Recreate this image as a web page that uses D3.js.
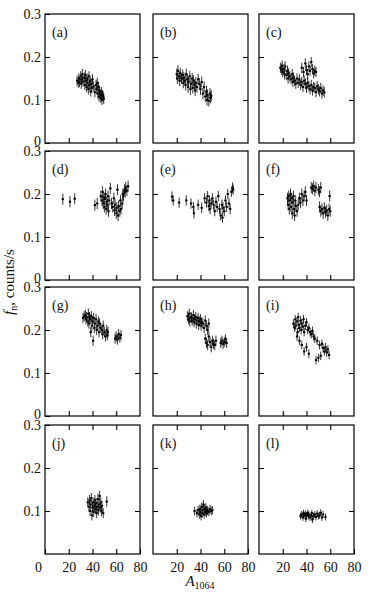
<!DOCTYPE html>
<html>
<head>
<meta charset="utf-8">
<script src="https://cdn.jsdelivr.net/npm/d3@7"></script>
<style>
  body { margin: 0; background: #fff; }
  svg text { font-family: "Times New Roman", "Liberation Serif", Tinos, "DejaVu Serif", serif; fill: #111; }
</style>
</head>
<body>
<div id="chart"></div>
<script>
// panel labels and per-panel typical error (half length of the bars)
var panelLabels = ["(a)", "(b)", "(c)", "(d)", "(e)", "(f)", "(g)", "(h)", "(i)", "(j)", "(k)", "(l)"];
var panelErr = [0.012, 0.013, 0.012, 0.013, 0.012, 0.013, 0.012, 0.012, 0.010, 0.012, 0.010, 0.008];

var xTicks = [0, 20, 40, 60, 80];
var yTicks = [0, 0.1, 0.2, 0.3];

// [A1064, fn]
var ptsA = [[27,0.145],[28,0.140],[28.5,0.150],[29,0.142],[30,0.155],[30.5,0.138],[31,0.148],[31.5,0.160],[32,0.143],[33,0.152],
  [33.5,0.135],[34,0.158],[34.5,0.145],[35,0.130],[35.5,0.150],[36,0.140],[36.5,0.125],[37,0.155],[37.5,0.135],[38,0.145],
  [38.5,0.120],[39,0.138],[39.5,0.128],[40,0.148],[41,0.132],[42,0.118],[43,0.135],[43.5,0.125],[44,0.140],[44.5,0.115],
  [45,0.130],[45.5,0.108],[46,0.122],[46.5,0.112],[47,0.105],[47.5,0.118],[48,0.100],[48.5,0.112],[49,0.108],[49.5,0.103]];
var ptsB = [[20,0.160],[20.5,0.150],[21,0.168],[22,0.155],[22.5,0.145],[23,0.162],[24,0.150],[25,0.158],[25.5,0.140],[26,0.152],
  [27,0.145],[27.5,0.135],[28,0.160],[29,0.148],[29.5,0.130],[30,0.142],[31,0.155],[31.5,0.125],[32,0.138],[33,0.150],
  [33.5,0.128],[34,0.145],[35,0.135],[35.5,0.122],[36,0.140],[37,0.130],[38,0.148],[39,0.138],[40,0.125],[41,0.142],
  [42,0.115],[43,0.130],[44,0.108],[45,0.120],[45.5,0.100],[46,0.112],[47,0.098],[48,0.115],[48.5,0.105],[49,0.110]];
var ptsC = [[18,0.175],[19,0.170],[19.5,0.180],[20,0.165],[21,0.172],[21.5,0.160],[22,0.178],[23,0.158],[24,0.168],[24.5,0.150],
  [25,0.162],[26,0.155],[27,0.148],[28,0.160],[28.5,0.142],[29,0.152],[30,0.145],[31,0.138],[32,0.150],[33,0.140],
  [34,0.148],[35,0.135],[36,0.142],[37,0.130],[38,0.145],[39,0.138],[40,0.128],[41,0.140],[42,0.132],[43,0.125],
  [44,0.135],[45,0.122],[46,0.130],[47,0.128],[48,0.118],[49,0.132],[50,0.125],[51,0.120],[52,0.128],[53,0.115],
  [54,0.122],[55,0.118],[36,0.175],[37.5,0.165],[39,0.185],[40,0.170],[41,0.160],[42,0.178],[43,0.168],[44,0.188],
  [45,0.172],[46,0.162],[47,0.168],[48,0.165]];
var ptsD = [[15,0.188],[21,0.182],[25,0.189],[42,0.174],[44,0.178],[47,0.195],[48,0.185],[48.5,0.205],[49,0.178],[49.5,0.192],
  [50,0.170],[50.5,0.188],[51,0.200],[51.5,0.165],[52,0.182],[52.5,0.175],[53,0.195],[53.5,0.160],[54,0.185],[55,0.213],
  [56,0.178],[57,0.170],[58,0.190],[58.5,0.162],[59,0.175],[60,0.155],[60.5,0.168],[61,0.210],[61.5,0.150],[62,0.172],
  [63,0.160],[63.5,0.185],[64,0.165],[65,0.178],[65.5,0.200],[66,0.195],[67,0.210],[67.5,0.205],[68,0.215],[69,0.208],[70,0.218]];
var ptsE = [[16,0.194],[17,0.185],[22,0.180],[28,0.185],[32,0.178],[34,0.170],[34.5,0.155],[38,0.175],[41,0.168],[43.5,0.190],
  [45,0.180],[46,0.195],[47,0.172],[47.5,0.185],[48,0.165],[49,0.178],[50,0.190],[51,0.175],[52,0.160],[53,0.182],
  [54,0.170],[55,0.195],[56,0.165],[57,0.150],[58,0.175],[58.5,0.145],[59,0.168],[60,0.160],[61,0.185],[62,0.170],
  [63,0.200],[64,0.178],[65,0.165],[66,0.205],[67,0.215],[67.5,0.210]];
var ptsF = [[24,0.190],[24.5,0.175],[25,0.195],[25.5,0.165],[26,0.185],[26.5,0.200],[27,0.170],[27.5,0.190],[28,0.155],[28.5,0.180],
  [29,0.195],[29.5,0.165],[30,0.150],[30.5,0.185],[31,0.172],[32,0.160],[33,0.175],[34,0.190],[35,0.180],[36,0.200],
  [37,0.185],[38,0.195],[39,0.205],[40,0.185],[44,0.215],[45,0.212],[46,0.218],[47,0.208],[48,0.215],[50,0.210],
  [51,0.205],[52,0.215],[51,0.170],[52,0.160],[53,0.165],[54,0.155],[55,0.168],[56,0.158],[57,0.162],[58,0.150],
  [59,0.165],[60,0.160],[59.5,0.195]];
var ptsG = [[32,0.228],[33,0.232],[34,0.235],[34.5,0.225],[35,0.230],[36,0.220],[36.5,0.238],[37,0.215],[37.5,0.230],[38,0.225],
  [38.5,0.195],[39,0.232],[39.5,0.210],[40,0.220],[40.5,0.175],[41,0.228],[41.5,0.205],[42,0.215],[43,0.225],[43.5,0.200],
  [44,0.210],[45,0.220],[45.5,0.195],[46,0.215],[47,0.205],[48,0.200],[48.5,0.190],[49,0.210],[50,0.195],[51,0.185],
  [52,0.200],[52.5,0.188],[53,0.195],[59,0.180],[60,0.185],[61,0.178],[62,0.190],[63,0.182],[64,0.188]];
var ptsH = [[29,0.232],[30,0.225],[30.5,0.238],[31,0.220],[32,0.230],[32.5,0.228],[33,0.222],[34,0.235],[34.5,0.218],[35,0.225],
  [36,0.230],[36.5,0.215],[37,0.222],[38,0.228],[38.5,0.212],[39,0.220],[40,0.225],[40.5,0.210],[41,0.218],[42,0.215],
  [43,0.205],[44,0.222],[45,0.210],[46,0.200],[47,0.215],[44,0.180],[45,0.170],[46,0.165],[47,0.185],[48,0.172],
  [49,0.160],[50,0.175],[51,0.168],[52,0.165],[53,0.175],[57,0.170],[58,0.175],[59,0.168],[60,0.172],[61,0.178],[62,0.170]];
var ptsI = [[29,0.215],[30,0.205],[30.5,0.225],[31,0.210],[32,0.220],[32.5,0.195],[33,0.230],[33.5,0.212],[34,0.205],[35,0.222],
  [35.5,0.200],[36,0.215],[37,0.208],[37.5,0.225],[38,0.195],[39,0.210],[40,0.218],[41,0.200],[42,0.205],[43,0.195],
  [44,0.190],[45,0.198],[46,0.185],[32,0.185],[34,0.175],[36,0.165],[38,0.150],[40,0.160],[42,0.145],[47,0.180],
  [48,0.130],[49,0.175],[50,0.135],[51,0.165],[52,0.140],[53,0.168],[54,0.158],[55,0.150],[56,0.160],[57,0.148],
  [58,0.155],[59,0.142]];
var ptsJ = [[36,0.120],[37,0.110],[37.5,0.125],[38,0.100],[38.5,0.115],[39,0.130],[39.5,0.090],[40,0.108],[40.5,0.120],[41,0.098],
  [41.5,0.112],[42,0.125],[42.5,0.105],[43,0.118],[43.5,0.095],[44,0.110],[44.5,0.128],[45,0.102],[45.5,0.115],[46,0.135],
  [46.5,0.108],[47,0.120],[47.5,0.100],[48,0.112],[49,0.095],[52,0.122]];
var ptsK = [[35,0.100],[37,0.095],[38,0.102],[39,0.092],[39.5,0.105],[40,0.098],[40.5,0.088],[41,0.110],[41.5,0.095],[42,0.102],
  [42.5,0.115],[43,0.092],[43.5,0.105],[44,0.098],[44.5,0.108],[45,0.095],[45.5,0.102],[46,0.100],[47,0.098],[48,0.104],
  [49,0.100],[50,0.102]];
var ptsL = [[35,0.088],[36,0.092],[37,0.085],[37.5,0.095],[38,0.090],[39,0.093],[39.5,0.082],[40,0.090],[41,0.095],[41.5,0.088],
  [42,0.092],[43,0.085],[44,0.090],[44.5,0.095],[45,0.080],[46,0.088],[47,0.092],[48,0.086],[49,0.094],[50,0.088],
  [51,0.090],[52,0.096],[53,0.085],[54,0.092],[56,0.086]];

var panelPts = [ptsA, ptsB, ptsC, ptsD, ptsE, ptsF, ptsG, ptsH, ptsI, ptsJ, ptsK, ptsL];

var width = 374, height = 598;
var colLeft = [45, 153, 259];
var rowTop = [14, 151, 287, 425];
var pw = 95, ph = 129;

var svg = d3.select("#chart").append("svg")
  .attr("width", width)
  .attr("height", height);

var x = d3.scaleLinear().domain([0, 80]).range([0, pw]);
var y = d3.scaleLinear().domain([0, 0.3]).range([ph, 0]);

panelPts.forEach(function(pts, i) {
  var row = Math.floor(i / 3), col = i % 3;
  var g = svg.append("g")
    .attr("transform", `translate(${colLeft[col]}, ${rowTop[row]})`);

  // inward ticks
  var left = g.append("g")
    .call(d3.axisLeft(y).tickValues(col == 0 ? (row == 3 ? [0.1, 0.2, 0.3] : yTicks) : [0.1, 0.2])
      .tickSize(-5).tickPadding(4)
      .tickFormat(col == 0 ? d => (d == 0 ? "0" : d.toFixed(1)) : ""));
  g.append("g")
    .attr("transform", `translate(${pw}, 0)`)
    .call(d3.axisRight(y).tickValues([0.1, 0.2]).tickSize(-5).tickFormat(""));
  var bottom = g.append("g")
    .attr("transform", `translate(0, ${ph})`)
    .call(d3.axisBottom(x).tickValues(row == 3 ? (col == 0 ? xTicks : xTicks.slice(1)) : [20, 40, 60])
      .tickSize(-5).tickPadding(8)
      .tickFormat(row == 3 ? d3.format("d") : ""));
  if (row == 3) {
    g.append("g")
      .call(d3.axisTop(x).tickValues([20, 40, 60]).tickSize(-5).tickFormat(""));
  }
  g.selectAll(".domain").remove();
  g.selectAll(".tick line").attr("stroke", "#000").attr("stroke-width", 1.1);
  g.selectAll(".tick text").attr("font-size", 14).attr("fill", "#111");
  left.selectAll(".tick text").attr("dy", "0.35em");
  left.selectAll(".tick text").filter(d => d == 0).attr("dy", "0.2em");
  if (row == 3 && col == 0) {
    bottom.selectAll(".tick text").filter(d => d == 0).attr("dx", -7);
  }

  // frame
  g.append("rect")
    .attr("width", pw).attr("height", ph)
    .attr("fill", "none").attr("stroke", "#000").attr("stroke-width", 1.2);

  g.append("text")
    .attr("x", 7).attr("y", 23)
    .attr("font-size", 14)
    .text(panelLabels[i]);

  var e = panelErr[i];
  g.selectAll("path.pt")
    .data(pts)
    .enter()
    .append("path")
    .attr("class", "pt")
    .attr("d", d => `M${x(d[0])},${y(d[1] + e)}V${y(d[1] - e)}M${x(d[0] - 1)},${y(d[1])}H${x(d[0] + 1)}`)
    .attr("stroke", "#000")
    .attr("stroke-width", 1)
    .attr("stroke-opacity", 0.8)
    .attr("fill", "none");
  g.selectAll("rect.dot")
    .data(pts)
    .enter()
    .append("rect")
    .attr("class", "dot")
    .attr("x", d => x(d[0]) - 1).attr("y", d => y(d[1]) - 1)
    .attr("width", 2).attr("height", 2)
    .attr("fill", "#000");
});

// axis titles
var xt = svg.append("text")
  .attr("x", 200).attr("y", 586)
  .attr("text-anchor", "middle")
  .attr("font-size", 15);
xt.append("tspan").attr("font-style", "italic").text("A");
xt.append("tspan").attr("font-size", 10).attr("dy", 3).text("1064");

var yt = svg.append("text")
  .attr("transform", "translate(14, 282) rotate(-90)")
  .attr("text-anchor", "middle")
  .attr("font-size", 15);
yt.append("tspan").attr("font-style", "italic").text("f");
yt.append("tspan").attr("font-size", 10).attr("dy", 3).text("n");
yt.append("tspan").attr("dy", -3).text(", counts/s");
</script>
</body>
</html>
